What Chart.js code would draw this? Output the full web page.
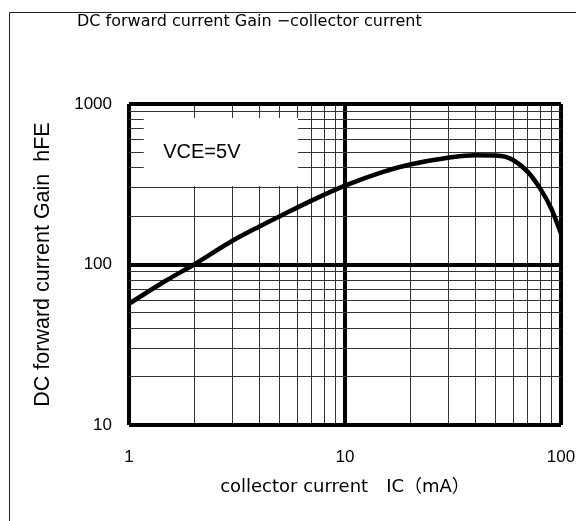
<!DOCTYPE html>
<html>
<head>
<meta charset="utf-8">
<script src="https://cdn.jsdelivr.net/npm/chart.js@4"></script>
<style>
  html, body { margin: 0; padding: 0; background: #fff; }
  #wrap { width: 576px; height: 521px; }
</style>
</head>
<body>
<div id="wrap"><canvas id="c" width="576" height="521"></canvas></div>
<script>
// ---- data ----
const icValues  = [1, 1.5, 2, 3, 4, 5, 7, 10, 15, 20, 30, 40, 50, 55, 60, 70, 80, 90, 100];
const hfeValues = [57, 80, 100, 140, 172, 200, 250, 310, 378, 420, 463, 480, 478, 470, 448, 379, 298, 224, 156];

// grid / tick values of the two log axes
const xGridValues = [1,2,3,4,5,6,7,8,9,10,20,30,40,50,60,70,80,90,100];
const yGridValues = [10,20,30,40,50,60,70,80,90,100,200,300,400,500,600,700,800,900,1000];
const xTickLabels = [1, 10, 100];
const yTickLabels = [10, 100, 1000];

const chartTitle = 'DC forward current Gain \u2212collector current';
const xTitle = 'collector current\u3000IC\uff08mA\uff09';
const yTitle = 'DC forward current Gain  hFE';
const noteText = 'VCE=5V';

const isDecade = v => Math.abs(Math.log10(v) - Math.round(Math.log10(v))) < 1e-9;

const decorPlugin = {
  id: 'decor',
  beforeDatasetsDraw(chart) {
    const {ctx} = chart;
    const xs = chart.scales.x, ys = chart.scales.y;
    // white label box covering the minor grid
    const x0 = xs.getPixelForValue(1.17), x1 = xs.getPixelForValue(6.06);
    const y0 = ys.getPixelForValue(818), y1 = ys.getPixelForValue(308);
    ctx.save();
    ctx.fillStyle = '#fff';
    ctx.fillRect(x0, y0, x1 - x0, y1 - y0);
    ctx.fillStyle = '#000';
    ctx.font = '20px "Liberation Sans", Arial, sans-serif';
    ctx.textBaseline = 'middle';
    ctx.textAlign = 'left';
    ctx.fillText(noteText, xs.getPixelForValue(1.44), ys.getPixelForValue(497));
    ctx.restore();
  },
  afterDraw(chart) {
    const {ctx} = chart;
    ctx.save();
    // outer frame (left + top)
    ctx.strokeStyle = '#222';
    ctx.lineWidth = 1;
    ctx.beginPath();
    ctx.moveTo(9.5, 521);
    ctx.lineTo(9.5, 12.5);
    ctx.lineTo(576, 12.5);
    ctx.stroke();
    // chart title
    ctx.fillStyle = '#000';
    ctx.font = '16px "DejaVu Sans", sans-serif';
    ctx.textBaseline = 'middle';
    ctx.textAlign = 'left';
    ctx.fillText(chartTitle, 77, 22);
    ctx.restore();
  }
};

new Chart(document.getElementById('c'), {
  type: 'line',
  data: {
    datasets: [{
      data: icValues.map((v, i) => ({x: v, y: hfeValues[i]})),
      borderColor: '#000',
      borderWidth: 4.5,
      pointRadius: 0,
      fill: false,
      cubicInterpolationMode: 'monotone',
      clip: false
    }]
  },
  options: {
    responsive: false,
    animation: false,
    events: [],
    layout: { padding: { left: 0, top: 104, right: 15, bottom: 0 } },
    plugins: { legend: { display: false }, tooltip: { enabled: false }, title: { display: false } },
    scales: {
      x: {
        type: 'logarithmic',
        min: 1, max: 100,
        afterBuildTicks: s => { s.ticks = xGridValues.map(v => ({value: v})); },
        afterFit: s => { s.height = 96; s.paddingLeft = 0; s.paddingRight = 0; },
        border: { display: false },
        grid: {
          drawTicks: false,
          color: ctx => isDecade(ctx.tick.value) ? '#000' : '#333',
          lineWidth: ctx => isDecade(ctx.tick.value) ? 4 : 1
        },
        ticks: {
          autoSkip: false, maxRotation: 0, minRotation: 0,
          padding: 22,
          color: '#000',
          font: { family: '"Liberation Sans", Arial, sans-serif', size: 17 },
          callback: v => xTickLabels.includes(v) ? String(v) : ''
        },
        title: {
          display: true, text: xTitle, color: '#000',
          font: { family: '"DejaVu Sans", "Noto Sans CJK JP", sans-serif', size: 18 },
          padding: { top: 0, bottom: 23 }
        }
      },
      y: {
        type: 'logarithmic',
        min: 10, max: 1000,
        afterBuildTicks: s => { s.ticks = yGridValues.map(v => ({value: v})); },
        afterFit: s => { s.width = 129; s.paddingTop = 0; s.paddingBottom = 0; },
        border: { display: false },
        grid: {
          drawTicks: false,
          color: ctx => isDecade(ctx.tick.value) ? '#000' : '#333',
          lineWidth: ctx => isDecade(ctx.tick.value) ? 4 : 1
        },
        ticks: {
          autoSkip: false,
          padding: 17,
          color: '#000',
          font: { family: '"Liberation Sans", Arial, sans-serif', size: 17 },
          callback: v => yTickLabels.includes(v) ? String(v) : ''
        },
        title: {
          display: true, text: yTitle, color: '#000',
          font: { family: '"Liberation Sans", Arial, sans-serif', size: 21.5 },
          padding: { top: 30, bottom: 0 }
        }
      }
    }
  },
  plugins: [decorPlugin]
});
</script>
</body>
</html>
